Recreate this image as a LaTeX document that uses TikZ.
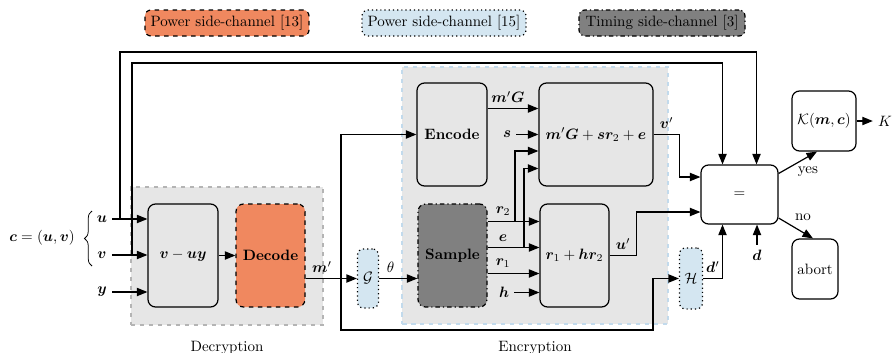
\documentclass[tikz,border=0pt]{standalone}
\usepackage{bm}
\usetikzlibrary{arrows.meta,calc,decorations.pathreplacing}
\definecolor{orng}{HTML}{F0885F}
\definecolor{lblue}{HTML}{D4E6F1}
\definecolor{lblueb}{HTML}{C2DAEC}
\definecolor{dgray}{HTML}{808080}
\definecolor{lgray}{HTML}{E6E6E6}
\definecolor{rgray}{HTML}{B4B4B4}
\newcommand\pxu{0.667pt}
\begin{document}
\begin{tikzpicture}[x=0.667pt, y=-0.667pt,
  arr/.style={-{Triangle[length=7pt,width=5.5pt]}, line width=0.8pt},
  box/.style={draw, line width=0.8pt, rounded corners=5pt, inner sep=1pt, align=center},
  sz/.style 2 args={minimum width=#1*\pxu, minimum height=#2*\pxu},
  region/.style={dashed, line width=0.7pt, inner sep=0pt}]
\useasboundingbox (0,0) rectangle (893,352);

% legend
\node[box, sz={164}{26}, fill=orng, dashed, rounded corners=4pt] (leg1) at (227,23) {Power side-channel [13]};
\node[box, sz={164}{26}, fill=lblue, dotted, rounded corners=4pt] (leg2) at (444,23) {Power side-channel [15]};
\node[box, sz={166}{26}, fill=dgray, dash dot, rounded corners=4pt] (leg3) at (662,23) {Timing side-channel [3]};

% regions
\node[region, sz={192}{138}, fill=lgray, draw=rgray] (decreg) at (227,256) {};
\node[region, sz={266}{257}, fill=lgray, draw=lblueb] (encreg) at (535,195.5) {};
\node[anchor=base] (declab) at (227,351) {Decryption};
\node[anchor=base] (enclab) at (535,351) {Encryption};

% blocks
\node[box, sz={70}{103}, fill=lgray] (vuy) at (183,255.5) {$\bm v - \bm u\bm y$};
\node[box, sz={69}{103}, fill=orng, dashed] (decode) at (270.5,255.5) {\textbf{Decode}};
\node[box, sz={21}{59}, fill=lblue, dotted, rounded corners=4pt] (G) at (368,278.5) {$\mathcal{G}$};
\node[box, sz={70}{103}, fill=lgray] (encode) at (452,134.5) {\textbf{Encode}};
\node[box, sz={114}{103}, fill=lgray] (add1) at (596,134.5) {$\bm m'\bm G + \bm s\bm r_2 + \bm e$};
\node[box, sz={69}{103}, fill=dgray, dash dot] (sample) at (452.5,255.5) {\textbf{Sample}};
\node[box, sz={69}{103}, fill=lgray] (add2) at (574.5,255.5) {$\bm r_1 + \bm h\bm r_2$};
\node[box, sz={23}{61}, fill=lblue, dotted, rounded corners=4pt] (H) at (691,278.5) {$\mathcal{H}$};
\node[box, sz={77}{59}, fill=white] (eq) at (739.5,194.5) {$=$};
\node[box, sz={64}{60}, fill=white] (kdf) at (824,121) {$\mathcal{K}(\bm m,\bm c)$};
\node[box, sz={46}{60}, fill=white] (abort) at (815,269) {abort};

% inputs
\node (clab) at (42,238) {$\bm c = (\bm u, \bm v)$};
\draw[decorate, decoration={brace, amplitude=5pt}, line width=0.5pt] (92,266) -- (92,211);
\node (ul) at (102,219) {$\bm u$};
\node (vl) at (102,255) {$\bm v$};
\node (yl) at (102,292) {$\bm y$};
\draw[arr] (ul.east) -- (ul.east -| vuy.west);
\draw[arr] (vl.east) -- (vl.east -| vuy.west);
\draw[arr] (yl.east) -- (yl.east -| vuy.west);
\coordinate (ju) at (120,219);
\coordinate (jv) at (132,255);
\draw[arr] (ju) -- (120,52) -| ($(eq.north)+(17,0)$);
\draw[arr] (jv) -- (132,63) -| ($(eq.north)+(-17,0)$);

% decryption
\draw[arr] (vuy) -- (decode);
\draw[arr] (decode.east |- G.west) -- (G.west) node[pos=0.32, above] {$\bm m'$};
\coordinate (jm) at (341,278.5);
\coordinate (mb1) at (341,330);
\coordinate (mb2) at (653,330);
\draw[arr] (jm) |- (encode.west);
\draw[arr] (jm) -- (mb1) -- (mb2) |- (H.west);
\draw[arr] (G.east) -- (G.east -| sample.west) node[pos=0.3, above] {$\theta$};

% encryption
\draw[arr] ($(encode.east)+(0,-26)$) -- ($(add1.west)+(0,-26)$) node[pos=0.4, above] {$\bm m'\bm G$};
\node (sl) at (507,134.5) {$\bm s$};
\draw[arr] (sl.east) -- (sl.east -| add1.west);
\draw[arr] ($(sample.east)+(0,-34)$) -- ($(add2.west)+(0,-34)$) node[pos=0.3, above] {$\bm r_2$};
\draw[arr] ($(sample.east)+(0,-8)$) -- ($(add2.west)+(0,-8)$) node[pos=0.3, above] {$\bm e$};
\draw[arr] ($(sample.east)+(0,18)$) -- ($(add2.west)+(0,18)$) node[pos=0.3, above] {$\bm r_1$};
\coordinate (jr2) at (515,221.5);
\coordinate (je) at (524,247.5);
\draw[arr] (jr2) |- ($(add1.west)+(0,16.5)$);
\draw[arr] (je) |- ($(add1.west)+(0,34)$);
\node (hl) at (504,292.5) {$\bm h$};
\draw[arr] (hl.east) -- (hl.east -| add2.west);

% outputs
\draw[arr] (add2.east) -- node[above] {$\bm u'$} ++(27,0) |- ($(eq.west)+(0,17.5)$);
\draw[arr] (add1.east) -- node[above] {$\bm v'$} ++(26,0) |- ($(eq.west)+(0,-17.5)$);
\draw[arr] (H.east) -| node[pos=0.25, above] {$\bm d'$} ($(eq.south)+(-17,0)$);
\node (dl) at (757,255) {$\bm d$};
\draw[arr] (dl.north) -- (dl.north |- eq.south);
\draw[arr] ($(eq.east)+(0,-21)$) -- ($(kdf.south)+(-7,0)$);
\node (yes) at (808,172) {yes};
\draw[arr] ($(eq.east)+(0,23.5)$) -- ($(abort.north)+(-2,0)$);
\node (no) at (803,217) {no};
\node (Kl) at (885,121) {$K$};
\draw[arr] (kdf.east) -- (Kl.west);
\end{tikzpicture}
\end{document}
